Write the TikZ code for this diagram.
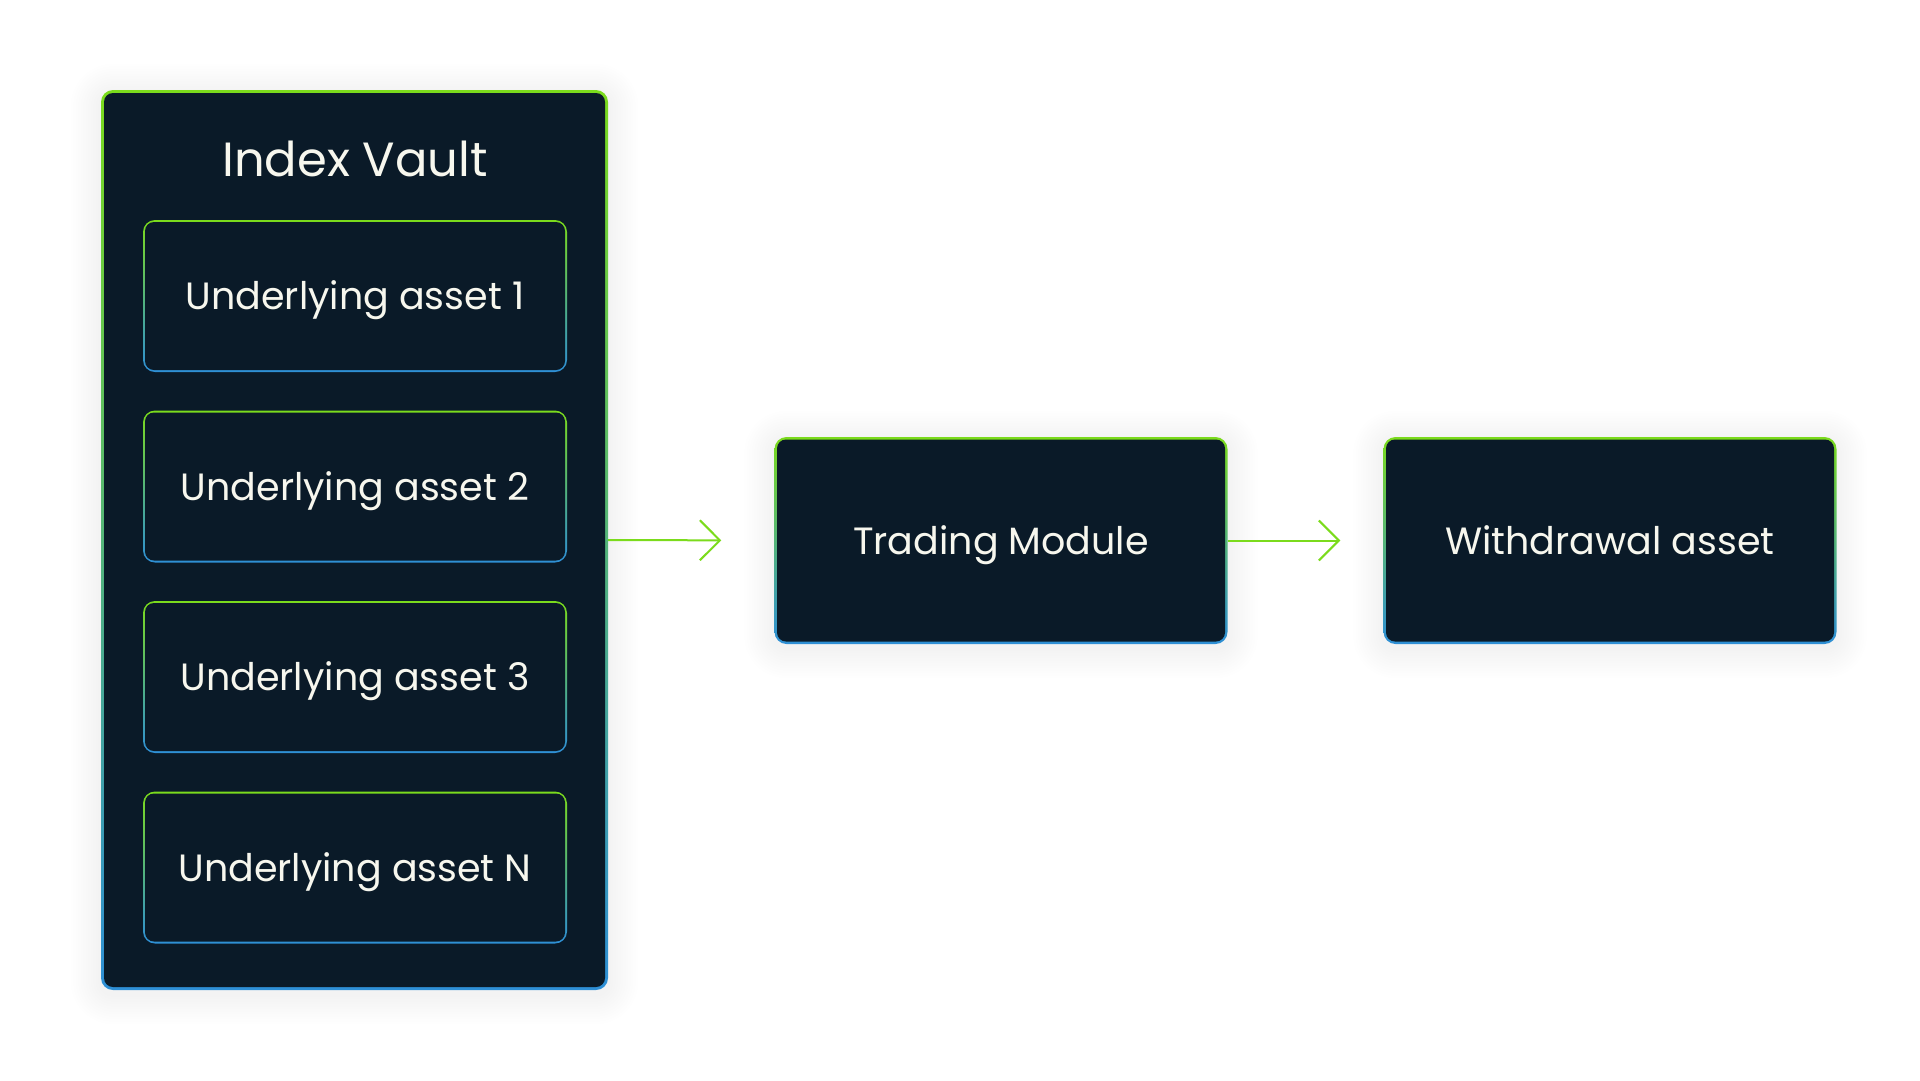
\documentclass[tikz,border=0pt]{standalone}
\usepackage{fontspec}
\setmainfont{Poppins}
\usetikzlibrary{positioning,calc,backgrounds,arrows.meta}
\definecolor{navy}{HTML}{0A1A28}
\definecolor{hellgruen}{HTML}{7BDB1C}
\definecolor{himmel}{HTML}{2E8FD6}
\definecolor{schrift}{HTML}{F7F7EE}
\tikzset{
  rahmen/.style={draw=none, top color=hellgruen, bottom color=himmel, inner sep=0pt,
    rounded corners=12pt, text=schrift, text height=27pt, text depth=0pt,
    path picture={\fill[navy,rounded corners=9pt]
      ($(path picture bounding box.south west)+(#1,#1)$) rectangle
      ($(path picture bounding box.north east)-(#1,#1)$);}},
  anlage/.style={rahmen=2pt, minimum width=424pt, minimum height=152pt, font=\fontsize{38}{44}\selectfont},
  modul/.style={rahmen=2.5pt, minimum width=453pt, minimum height=207pt, font=\fontsize{38}{44}\selectfont},
  pfeil/.style={draw=hellgruen, line width=2pt, -{Straight Barb[length=20pt,width=40pt,line width=2pt]}},
}
\begin{document}
\begin{tikzpicture}[x=1pt,y=-1pt]
\useasboundingbox (0,0) rectangle (1920,1080);
%Tresor mit den Anlagen
\node[rahmen=3pt, minimum width=507pt, minimum height=900pt] (vault) at (354.5,540) {};
\node[text=schrift, font=\fontsize{48}{56}\selectfont, text height=34pt, text depth=0pt, inner sep=0pt] (titel) at (355,159) {Index Vault};
\foreach \i/\n in {1/1,2/2,3/3,4/N}{
  \node[anlage] (a\i) at (355,{296+190.5*(\i-1)}) {Underlying asset \n};
}
%Handel und Auszahlung
\node[modul] (trade) at (1001,540.5) {Trading Module};
\node[modul] (withdraw) at (1610,540.5) {Withdrawal asset};
\draw[pfeil, shorten >=53pt] (vault.east) -- (trade.west);
\draw[pfeil, shorten >=43pt] (trade.east) -- (withdraw.west);
%weicher Schatten
\begin{scope}[on background layer]
\fill[white] (0,0) rectangle (1920,1080);
\foreach \n in {vault,trade,withdraw}{
  \foreach \k in {1,...,12}{
    \fill[black, opacity=0.0045, rounded corners=12pt+\k*2.5pt]
      ($(\n.north west)+(-\k*2.5pt,\k*2.5pt-4pt)$) rectangle ($(\n.south east)+(\k*2.5pt,-\k*2.5pt-4pt)$);
  }
}
\end{scope}
\end{tikzpicture}
\end{document}
